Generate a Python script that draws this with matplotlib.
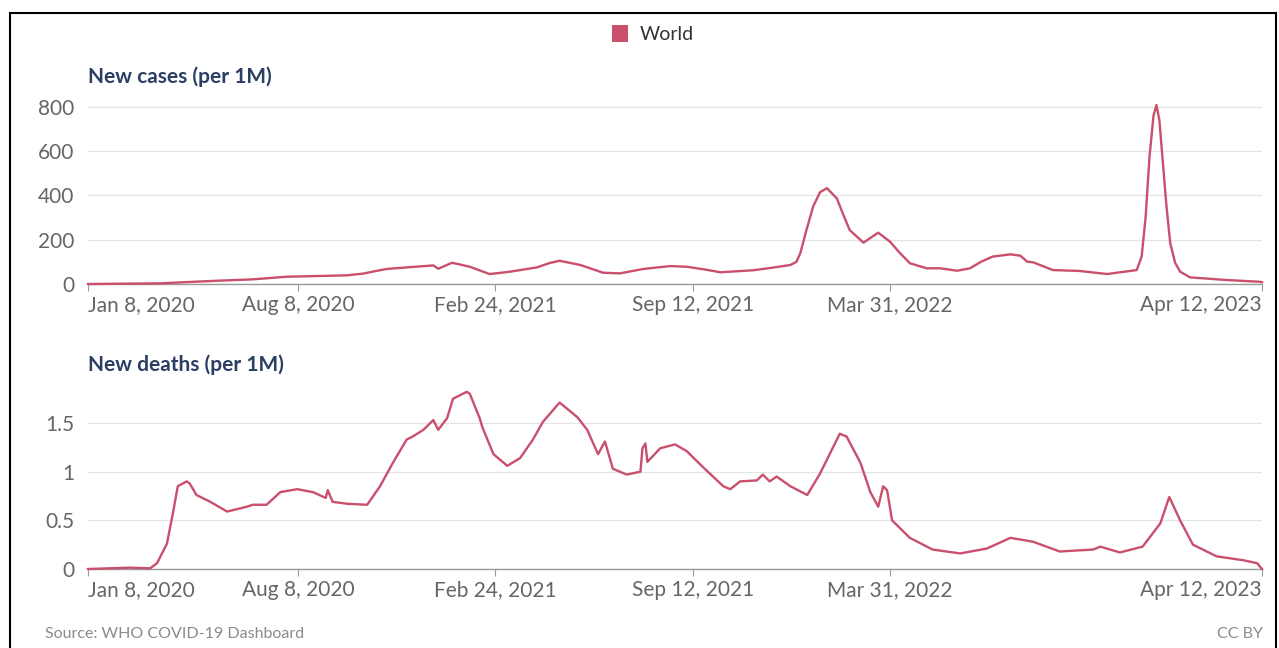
import matplotlib
matplotlib.use("Agg")
import matplotlib.pyplot as plt
from matplotlib.patches import Rectangle
import pandas as pd

plt.rcParams['font.family'] = ['Lato', 'DejaVu Sans']

# New cases per million (7-day average)
case_dates = [
    "2020-01-08", "2020-03-21", "2020-05-14", "2020-06-23", "2020-07-28",
    "2020-09-26", "2020-10-13", "2020-10-25", "2020-11-06", "2020-11-26",
    "2020-12-23", "2020-12-28", "2021-01-11", "2021-01-29", "2021-02-18",
    "2021-03-10", "2021-04-07", "2021-04-20", "2021-04-30", "2021-05-21",
    "2021-06-13", "2021-06-30", "2021-07-24", "2021-08-20", "2021-09-06",
    "2021-09-25", "2021-10-10", "2021-11-12", "2021-11-29", "2021-12-20",
    "2021-12-26", "2021-12-30", "2022-01-05", "2022-01-12", "2022-01-19",
    "2022-01-26", "2022-02-05", "2022-02-11", "2022-02-18", "2022-03-04",
    "2022-03-19", "2022-03-31", "2022-04-10", "2022-04-20", "2022-05-07",
    "2022-05-21", "2022-06-07", "2022-06-20", "2022-07-01", "2022-07-13",
    "2022-07-31", "2022-08-10", "2022-08-17", "2022-08-23", "2022-09-12",
    "2022-10-09", "2022-11-06", "2022-12-06", "2022-12-11", "2022-12-15",
    "2022-12-19", "2022-12-23", "2022-12-26", "2022-12-29", "2023-01-01",
    "2023-01-05", "2023-01-09", "2023-01-14", "2023-01-19", "2023-01-29",
    "2023-03-07", "2023-04-10", "2023-04-12",
]
case_values = [
    0, 3, 14, 21, 33,
    39, 47, 58, 68, 75,
    84, 69, 96, 78, 45,
    55, 75, 95, 105, 86,
    51, 48, 68, 81, 78,
    65, 53, 62, 72, 86,
    100, 139, 240, 350, 415,
    433, 387, 320, 244, 187,
    232, 191, 140, 94, 71,
    71, 60, 71, 100, 124,
    134, 128, 101, 98, 63,
    59, 45, 63, 124, 300,
    576, 760, 809, 740, 576,
    360, 184, 95, 56, 30,
    18, 10, 8,
]

# New deaths per million (7-day average)
death_dates = [
    "2020-01-08", "2020-02-20", "2020-03-11", "2020-03-18", "2020-03-28",
    "2020-04-03", "2020-04-08", "2020-04-17", "2020-04-20", "2020-04-27",
    "2020-05-11", "2020-05-28", "2020-06-17", "2020-06-23", "2020-07-07",
    "2020-07-21", "2020-08-07", "2020-08-23", "2020-09-05", "2020-09-07",
    "2020-09-12", "2020-09-27", "2020-10-17", "2020-10-30", "2020-11-12",
    "2020-11-26", "2020-12-02", "2020-12-13", "2020-12-23", "2020-12-28",
    "2021-01-06", "2021-01-12", "2021-01-26", "2021-01-29", "2021-02-08",
    "2021-02-11", "2021-02-22", "2021-03-08", "2021-03-21", "2021-04-03",
    "2021-04-13", "2021-04-30", "2021-05-18", "2021-05-28", "2021-06-08",
    "2021-06-15", "2021-06-23", "2021-07-07", "2021-07-21", "2021-07-23",
    "2021-07-26", "2021-07-28", "2021-08-10", "2021-08-25", "2021-09-06",
    "2021-09-22", "2021-10-13", "2021-10-20", "2021-10-30", "2021-11-16",
    "2021-11-22", "2021-11-29", "2021-12-06", "2021-12-20", "2022-01-06",
    "2022-01-19", "2022-02-08", "2022-02-15", "2022-03-01", "2022-03-11",
    "2022-03-19", "2022-03-24", "2022-03-28", "2022-04-02", "2022-04-20",
    "2022-05-13", "2022-06-10", "2022-07-07", "2022-07-31", "2022-08-23",
    "2022-09-19", "2022-10-23", "2022-10-30", "2022-11-19", "2022-12-12",
    "2022-12-30", "2023-01-08", "2023-01-19", "2023-02-01", "2023-02-25",
    "2023-03-24", "2023-04-07", "2023-04-12",
]
death_values = [
    0.0, 0.014, 0.007, 0.06, 0.26,
    0.57, 0.85, 0.90, 0.88, 0.76,
    0.69, 0.59, 0.64, 0.66, 0.66,
    0.79, 0.82, 0.79, 0.73, 0.81,
    0.69, 0.67, 0.66, 0.85, 1.09,
    1.33, 1.36, 1.43, 1.53, 1.43,
    1.55, 1.75, 1.82, 1.80, 1.55,
    1.45, 1.18, 1.06, 1.14, 1.33,
    1.51, 1.71, 1.56, 1.43, 1.18,
    1.31, 1.03, 0.97, 1.00, 1.24,
    1.29, 1.10, 1.24, 1.28, 1.21,
    1.05, 0.85, 0.82, 0.90, 0.91,
    0.97, 0.90, 0.95, 0.85, 0.76,
    0.98, 1.39, 1.36, 1.09, 0.79,
    0.64, 0.85, 0.81, 0.50, 0.32,
    0.20, 0.16, 0.21, 0.32, 0.28,
    0.18, 0.20, 0.23, 0.17, 0.23,
    0.47, 0.74, 0.50, 0.25, 0.13,
    0.09, 0.06, 0.0,
]

tick_dates = ["2020-01-08", "2020-08-08", "2021-02-24", "2021-09-12", "2022-03-31", "2023-04-12"]
tick_labels = ["Jan 8, 2020", "Aug 8, 2020", "Feb 24, 2021", "Sep 12, 2021", "Mar 31, 2022", "Apr 12, 2023"]

LINE = "#c94f6d"
NAVY = "#2b3e63"
GREY = "#666666"

W, H = 1279, 648
fig = plt.figure(figsize=(W / 100, H / 100), dpi=100)
fig.patch.set_facecolor("white")


def px_box(left, right, top, bottom):
    return [left / W, 1 - bottom / H, (right - left) / W, (bottom - top) / H]


def style_axis(ax, dates, values, yticks, ylabels, ymax):
    ax.plot(pd.to_datetime(dates), values, color=LINE, lw=1.7, clip_on=False, zorder=3)
    ax.set_xlim(pd.Timestamp(tick_dates[0]), pd.Timestamp(tick_dates[-1]))
    ax.set_ylim(0, ymax)
    ax.set_yticks(yticks)
    ax.set_yticklabels(ylabels)
    ax.set_xticks(pd.to_datetime(tick_dates))
    ax.set_xticklabels(tick_labels)
    labs = ax.get_xticklabels()
    labs[0].set_ha("left")
    labs[-1].set_ha("right")
    for s in ["top", "right", "left"]:
        ax.spines[s].set_visible(False)
    ax.spines["bottom"].set_color("#9a9a9a")
    ax.spines["bottom"].set_linewidth(1.0)
    ax.grid(axis="y", color="#e4e4e4", lw=0.9)
    ax.set_axisbelow(True)
    ax.tick_params(axis="y", length=0, pad=10, labelsize=15, labelcolor=GREY)
    ax.tick_params(axis="x", length=5, width=0.8, color="#9a9a9a", pad=3,
                   labelsize=15, labelcolor=GREY)
    ax.set_facecolor("none")


# cases panel: 0 at y=284px, 800 at y=107px
ax1 = fig.add_axes(px_box(88, 1262, 284 - 820 * (177 / 800), 284))
style_axis(ax1, case_dates, case_values, [0, 200, 400, 600, 800],
           ["0", "200", "400", "600", "800"], 820)

# deaths panel: 0 at y=569px, 1.5 at y=423px
ax2 = fig.add_axes(px_box(88, 1262, 569 - 1.85 * (146 / 1.5), 569))
style_axis(ax2, death_dates, death_values, [0, 0.5, 1, 1.5],
           ["0", "0.5", "1", "1.5"], 1.85)

fig.text(88 / W, 1 - 77 / H, "New cases (per 1M)", fontsize=15, fontweight="bold",
         color=NAVY, va="center", ha="left")
fig.text(88 / W, 1 - 365 / H, "New deaths (per 1M)", fontsize=15, fontweight="bold",
         color=NAVY, va="center", ha="left")

# legend
fig.add_artist(Rectangle((612 / W, 1 - 42 / H), 16 / W, 17 / H, facecolor=LINE,
                         edgecolor="none", transform=fig.transFigure))
fig.text(640 / W, 1 - 34 / H, "World", fontsize=14, color="#333333", va="center", ha="left")

fig.text(45 / W, 1 - 634 / H, "Source: WHO COVID-19 Dashboard", fontsize=11.5,
         color="#8a8a8a", va="center", ha="left")
fig.text(1263 / W, 1 - 634 / H, "CC BY", fontsize=11.5, color="#8a8a8a",
         va="center", ha="right")

# outer frame
fig.add_artist(Rectangle((9.5 / W, -0.05), 1266 / W, 1.05 - 12.5 / H, facecolor="none",
                         edgecolor="black", lw=1.5, transform=fig.transFigure))

fig.savefig("out.png", dpi=100)
